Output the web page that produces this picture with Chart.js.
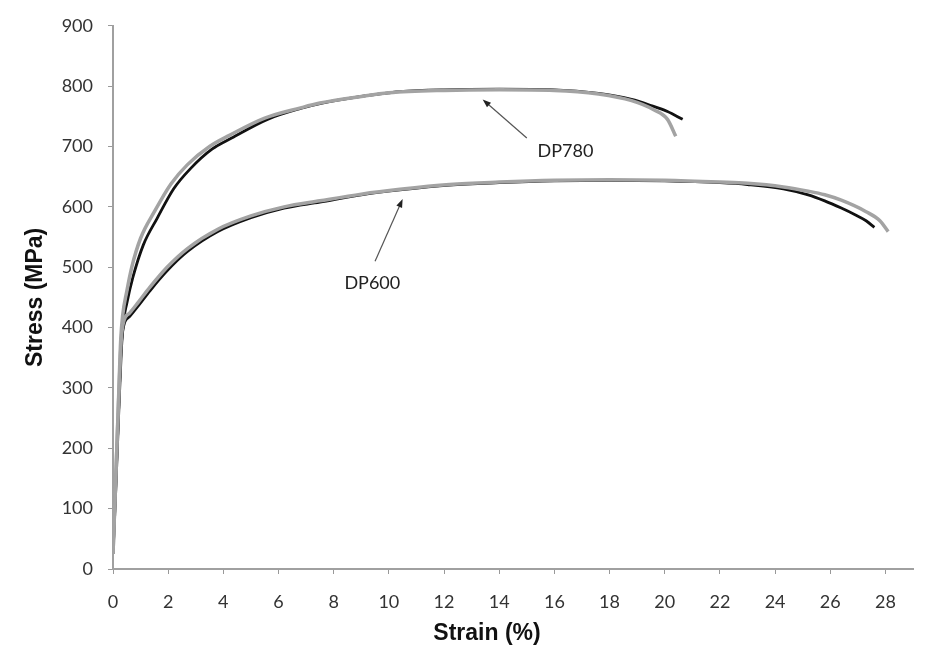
<!DOCTYPE html>
<html>
<head>
<meta charset="utf-8">
<script src="https://cdn.jsdelivr.net/npm/chart.js@4.4.0/dist/chart.umd.min.js"></script>
<style>
  body { margin: 0; background: #fff; }
  #wrap { width: 930px; height: 656px; }
</style>
</head>
<body>
<div id="wrap"><canvas id="stressChart" width="930" height="656"></canvas></div>
<script>
// strain (%) / stress (MPa)
var dp780aStrain = [0, 0.1, 0.2, 0.3, 0.38, 0.5, 0.72, 1.1, 1.6, 2.2, 2.8, 3.6, 4.3, 5.6, 6.8, 7.5, 9, 10, 10.4, 12, 14, 16, 17.6, 18.8, 19.5, 20.1, 20.65];
var dp780aStress = [25, 130, 250, 360, 410, 440, 483, 537, 581, 630, 663, 696, 714, 745, 763, 771, 783, 789, 791, 794, 795, 794, 788, 778, 768, 758, 745];

var dp780bStrain = [0, 0.1, 0.2, 0.28, 0.35, 0.5, 0.68, 1.0, 1.5, 2.1, 2.7, 3.5, 4.2, 5.5, 6.8, 7.5, 9, 10, 12, 14, 16, 17.6, 18.8, 19.6, 20.1, 20.4];
var dp780bStress = [25, 150, 280, 380, 420, 460, 500, 548, 592, 638, 670, 700, 718, 747, 764, 772, 783, 789, 793, 794, 793, 787, 776, 761, 745, 717];

var dp600aStrain = [0, 0.1, 0.2, 0.3, 0.4, 0.6, 0.9, 1.34, 1.96, 2.7, 3.8, 5, 6.2, 7.5, 9, 10.4, 12.2, 14, 16, 18, 20, 22, 23, 24.3, 25.2, 25.8, 26.4, 26.9, 27.3, 27.6];
var dp600aStress = [25, 140, 260, 370, 405, 418, 435, 461, 494, 526, 559, 582, 598, 608, 620, 628, 636, 640, 643, 644, 643, 640, 637, 630, 620, 610, 598, 587, 577, 566];

var dp600bStrain = [0, 0.1, 0.2, 0.3, 0.4, 0.6, 0.9, 1.34, 1.96, 2.7, 3.8, 5, 6.2, 7.5, 9, 10.4, 12.2, 14, 16, 18, 20, 22, 23, 24.3, 25.2, 25.8, 26.4, 27.3, 27.8, 28.1];
var dp600bStress = [25, 150, 275, 380, 412, 424, 441, 467, 500, 531, 563, 585, 600, 610, 621, 629, 637, 641, 644, 645, 644, 641, 639, 633, 626, 620, 611, 592, 577, 559];

var xTicks = [0, 2, 4, 6, 8, 10, 12, 14, 16, 18, 20, 22, 24, 26, 28];

// arrow annotations (data coordinates)
var noteLabels = ["DP780", "DP600"];
var noteTips = [[13.4, 778], [10.5, 613]];
var noteTails = [[15.0, 714], [9.5, 510]];
var noteText = [[16.4, 693], [9.4, 474]];

function toPoints(xs, ys) {
    var pts = [];
    for (var i = 0; i < xs.length; i++) {
        pts.push({ x: xs[i], y: ys[i] });
    }
    return pts;
}

function lineSet(label, xs, ys, color, width) {
    return {
        label: label,
        data: toPoints(xs, ys),
        borderColor: color,
        borderWidth: width,
        pointRadius: 0,
        fill: false,
        cubicInterpolationMode: "monotone",
    };
}

var arrowNotes = {
    id: "arrowNotes",
    afterDatasetsDraw: function (chart) {
        var ctx = chart.ctx;
        var xs = chart.scales.x;
        var ys = chart.scales.y;
        ctx.save();
        for (var i = 0; i < noteLabels.length; i++) {
            var x1 = xs.getPixelForValue(noteTails[i][0]);
            var y1 = ys.getPixelForValue(noteTails[i][1]);
            var x2 = xs.getPixelForValue(noteTips[i][0]);
            var y2 = ys.getPixelForValue(noteTips[i][1]);
            var ang = Math.atan2(y2 - y1, x2 - x1);
            ctx.strokeStyle = "#555";
            ctx.fillStyle = "#222";
            ctx.lineWidth = 1.2;
            ctx.beginPath();
            ctx.moveTo(x1, y1);
            ctx.lineTo(x2 - 5 * Math.cos(ang), y2 - 5 * Math.sin(ang));
            ctx.stroke();
            ctx.beginPath();
            ctx.moveTo(x2, y2);
            ctx.lineTo(x2 - 9 * Math.cos(ang - 0.35), y2 - 9 * Math.sin(ang - 0.35));
            ctx.lineTo(x2 - 9 * Math.cos(ang + 0.35), y2 - 9 * Math.sin(ang + 0.35));
            ctx.closePath();
            ctx.fill();
            ctx.font = "18px Lato";
            ctx.fillStyle = "#222";
            ctx.textAlign = "center";
            ctx.textBaseline = "middle";
            ctx.fillText(noteLabels[i], xs.getPixelForValue(noteText[i][0]), ys.getPixelForValue(noteText[i][1]));
        }
        // x axis title, set a little left of centre like the original
        ctx.font = "bold 23px 'Liberation Sans'";
        ctx.fillStyle = "#111";
        ctx.fillText("Strain (%)", 487, 634);
        ctx.restore();
    },
};

var ctx = document.getElementById("stressChart").getContext("2d");
var stressChart = new Chart(ctx, {
    type: "line",
    data: {
        datasets: [
            lineSet("DP780 b", dp780bStrain, dp780bStress, "#a3a3a3", 3.5),
            lineSet("DP600 b", dp600bStrain, dp600bStress, "#a3a3a3", 3.5),
            lineSet("DP780 a", dp780aStrain, dp780aStress, "#111", 2.8),
            lineSet("DP600 a", dp600aStrain, dp600aStress, "#111", 2.8),
        ],
    },
    options: {
        responsive: false,
        animation: false,
        layout: { padding: { left: 0, right: 17, top: 18, bottom: 0 } },
        plugins: {
            legend: { display: false },
            tooltip: { enabled: false },
        },
        scales: {
            x: {
                type: "linear",
                min: 0,
                max: 29,
                afterBuildTicks: function (axis) {
                    axis.ticks = xTicks.map(function (v) { return { value: v }; });
                },
                afterFit: function (scale) { scale.height = 87; },
                grid: { drawOnChartArea: false, drawTicks: true, tickLength: 5, color: "#999" },
                border: { display: true, color: "#a0a0a0", width: 2 },
                ticks: { padding: 17, color: "#333", font: { family: "Lato", size: 18 }, maxRotation: 0 },
            },
            y: {
                type: "linear",
                min: 0,
                max: 900,
                ticks: { stepSize: 100, padding: 15, color: "#333", font: { family: "Lato", size: 18 } },
                afterFit: function (scale) { scale.width = 113; },
                grid: { drawOnChartArea: false, drawTicks: true, tickLength: 5, color: "#999" },
                border: { display: true, color: "#a0a0a0", width: 2 },
                title: {
                    display: true,
                    text: "Stress (MPa)",
                    color: "#111",
                    padding: { top: 22, bottom: 0 },
                    font: { family: "Liberation Sans", size: 23, weight: "bold" },
                },
            },
        },
    },
    plugins: [arrowNotes],
});
</script>
</body>
</html>
